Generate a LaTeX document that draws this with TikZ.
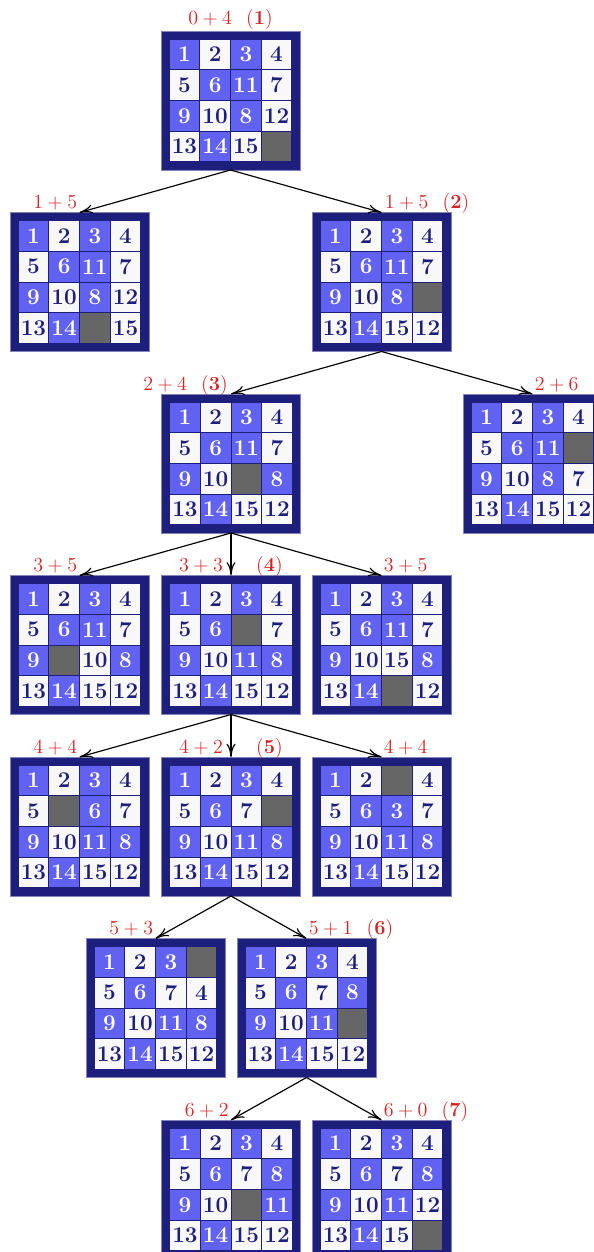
\documentclass[tikz,border=0pt]{standalone}
\usepackage{amsmath,amssymb}
\usepackage{tikz}
\usetikzlibrary{arrows.meta,positioning,calc}
\usepackage{xcolor}
\definecolor{boardnavy}{HTML}{1E1E7C}
\definecolor{tileblue}{HTML}{6262F2}
\definecolor{tilewhite}{HTML}{F8F8F8}
\definecolor{holegray}{HTML}{666666}
\definecolor{costred}{HTML}{D82222}

\tikzset{
  board/.style={fill=boardnavy, draw=boardnavy!55!white, line width=0.4pt,
    minimum size=83.4pt, inner sep=0pt, outer sep=0pt},
  tile/.style={draw=boardnavy, line width=0.5pt, minimum size=18.4pt,
    inner sep=0pt, font=\fontsize{13.5}{15}\selectfont\bfseries},
  bluetile/.style={tile, fill=tileblue, text=white},
  whitetile/.style={tile, fill=tilewhite, text=boardnavy},
  holetile/.style={tile, fill=holegray},
  t0/.style=holetile,
  t1/.style=bluetile, t2/.style=whitetile, t3/.style=bluetile, t4/.style=whitetile,
  t5/.style=whitetile, t6/.style=bluetile, t7/.style=whitetile, t8/.style=bluetile,
  t9/.style=bluetile, t10/.style=whitetile, t11/.style=bluetile, t12/.style=whitetile,
  t13/.style=whitetile, t14/.style=bluetile, t15/.style=whitetile,
  cost/.style={costred, inner sep=0pt, font=\fontsize{13}{15}\selectfont},
  move/.style={-{To[length=8pt,width=5.5pt]}, line width=0.7pt}
}

% board: name, x, y, tiles row by row (0 = hole)
\newcommand{\puzzle}[4]{%
  \node[board] (#1) at (#2,#3) {};
  \foreach \tn [count=\i from 0] in {#4} {
    \pgfmathtruncatemacro{\row}{floor(\i/4)}
    \pgfmathtruncatemacro{\col}{mod(\i,4)}
    \node[tile, t\tn] (#1-\i) at (#2+30.7*\col-46.05, #3+30.7*\row-46.05) {\ifnum\tn=0 \else\tn\fi};
  }%
}

\begin{document}
\begin{tikzpicture}[x=0.6pt, y=-0.6pt]
  \useasboundingbox (0,0) rectangle (594,1252);

  % Level 0
  \puzzle{s0}{230.5}{100.5}{1,2,3,4,5,6,11,7,9,10,8,12,13,14,15,0}
  \node[cost, anchor=base] (c0) at ($(s0.north)+(0,-6)$) {$0+4\ \ (\mathbf{1})$};

  % Level 1
  \puzzle{s1a}{79.5}{282}{1,2,3,4,5,6,11,7,9,10,8,12,13,14,0,15}
  \puzzle{s1b}{381.5}{282}{1,2,3,4,5,6,11,7,9,10,8,0,13,14,15,12}
  \node[cost, anchor=base east] (c1a) at ($(s1a.north)+(-2,-4)$) {$1+5$};
  \node[cost, anchor=base west] (c1b) at ($(s1b.north)+(3,-4)$) {$1+5\ \ (\mathbf{2})$};

  % Level 2
  \puzzle{s2a}{231}{463.5}{1,2,3,4,5,6,11,7,9,10,0,8,13,14,15,12}
  \puzzle{s2b}{532.5}{463.5}{1,2,3,4,5,6,11,0,9,10,8,7,13,14,15,12}
  \node[cost, anchor=base east] (c2a) at ($(s2a.north)+(-3,-4)$) {$2+4\ \ (\mathbf{3})$};
  \node[cost, anchor=base west] (c2b) at ($(s2b.north)+(2,-4)$) {$2+6$};

  % Level 3
  \puzzle{s3a}{79.5}{645}{1,2,3,4,5,6,11,7,9,0,10,8,13,14,15,12}
  \puzzle{s3b}{231}{645}{1,2,3,4,5,6,0,7,9,10,11,8,13,14,15,12}
  \puzzle{s3c}{381.5}{645}{1,2,3,4,5,6,11,7,9,10,15,8,13,14,0,12}
  \node[cost, anchor=base east] (c3a) at ($(s3a.north)+(-2,-4)$) {$3+5$};
  \node[cost, anchor=base] (c3b) at ($(s3b.north)+(0,-4)$) {$3+3$\hspace{20pt}$(\mathbf{4})$};
  \node[cost, anchor=base west] (c3c) at ($(s3c.north)+(2,-4)$) {$3+5$};

  % Level 4
  \puzzle{s4a}{79.5}{826.5}{1,2,3,4,5,0,6,7,9,10,11,8,13,14,15,12}
  \puzzle{s4b}{231}{826.5}{1,2,3,4,5,6,7,0,9,10,11,8,13,14,15,12}
  \puzzle{s4c}{381.5}{826.5}{1,2,0,4,5,6,3,7,9,10,11,8,13,14,15,12}
  \node[cost, anchor=base east] (c4a) at ($(s4a.north)+(-2,-4)$) {$4+4$};
  \node[cost, anchor=base] (c4b) at ($(s4b.north)+(0,-4)$) {$4+2$\hspace{20pt}$(\mathbf{5})$};
  \node[cost, anchor=base west] (c4c) at ($(s4c.north)+(2,-4)$) {$4+4$};

  % Level 5
  \puzzle{s5a}{155.5}{1008}{1,2,3,0,5,6,7,4,9,10,11,8,13,14,15,12}
  \puzzle{s5b}{306.5}{1008}{1,2,3,4,5,6,7,8,9,10,11,0,13,14,15,12}
  \node[cost, anchor=base east] (c5a) at ($(s5a.north)+(-2,-4)$) {$5+3$};
  \node[cost, anchor=base west] (c5b) at ($(s5b.north)+(2,-4)$) {$5+1\ \ (\mathbf{6})$};

  % Level 6
  \puzzle{s6a}{231}{1189.5}{1,2,3,4,5,6,7,8,9,10,0,11,13,14,15,12}
  \puzzle{s6b}{381.5}{1189.5}{1,2,3,4,5,6,7,8,9,10,11,12,13,14,15,0}
  \node[cost, anchor=base east] (c6a) at ($(s6a.north)+(-2,-4)$) {$6+2$};
  \node[cost, anchor=base west] (c6b) at ($(s6b.north)+(2,-4)$) {$6+0\ \ (\mathbf{7})$};

  % moves
  \draw[move] (s0.south) -- (s1a.north);
  \draw[move] (s0.south) -- (s1b.north);
  \draw[move] (s1b.south) -- (s2a.north);
  \draw[move] (s1b.south) -- (s2b.north);
  \draw[move] (s2a.south) -- (s3a.north);
  \draw[move] (s2a.south) -- (s3b.north);
  \draw[move] (s2a.south) -- (s3c.north);
  \draw[move] (s3b.south) -- (s4a.north);
  \draw[move] (s3b.south) -- (s4b.north);
  \draw[move] (s3b.south) -- (s4c.north);
  \draw[move] (s4b.south) -- (s5a.north);
  \draw[move] (s4b.south) -- (s5b.north);
  \draw[move] (s5b.south) -- (s6a.north);
  \draw[move] (s5b.south) -- (s6b.north);
\end{tikzpicture}
\end{document}
